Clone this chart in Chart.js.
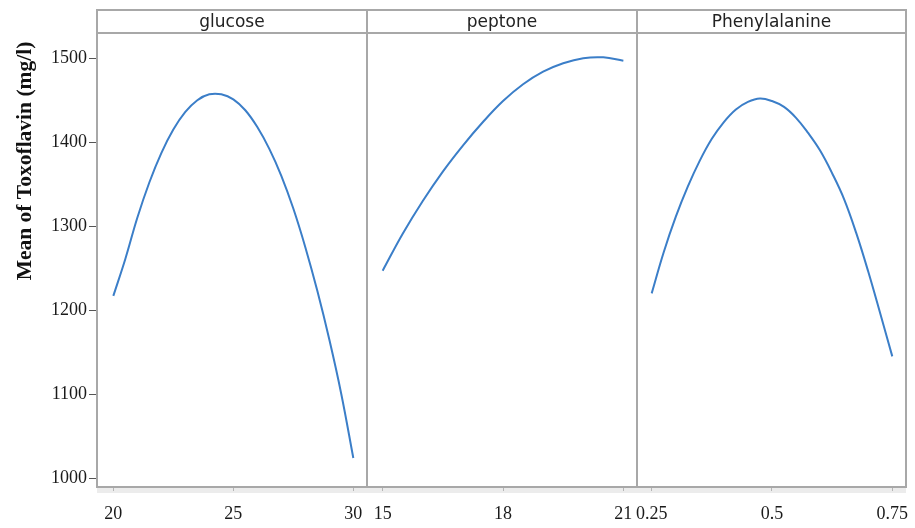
<!DOCTYPE html>
<html>
<head>
<meta charset="utf-8">
<script src="https://cdn.jsdelivr.net/npm/chart.js@4.4.1/dist/chart.umd.min.js"></script>
<style>
  html, body { margin: 0; padding: 0; background: #fff; }
  #wrap { position: relative; width: 915px; height: 528px; background: #fff; }
  #wrap canvas { position: absolute; left: 0; top: 0; }
</style>
</head>
<body>
<div id="wrap">
  <canvas id="panel0" width="915" height="528"></canvas>
  <canvas id="panel1" width="915" height="528"></canvas>
  <canvas id="panel2" width="915" height="528"></canvas>
</div>
<script>
// Factor names shown in the strip above each panel
const factorNames = ['glucose', 'peptone', 'Phenylalanine'];

// Profiled mean response along each factor
const glucoseLevels = [20, 20.5, 21, 21.5, 22, 22.5, 23, 23.5, 24, 24.5, 25, 25.5, 26, 26.5, 27, 27.5, 28, 28.5, 29, 29.5, 30];
const glucoseMean   = [1217, 1261, 1310, 1352, 1387, 1415, 1436, 1450, 1457, 1457, 1451, 1438, 1418, 1392, 1360, 1321, 1275, 1223, 1165, 1100, 1024];

const peptoneLevels = [15, 15.5, 16, 16.5, 17, 17.5, 18, 18.5, 19, 19.5, 20, 20.5, 21];
const peptoneMean   = [1247, 1291, 1330, 1365, 1396, 1424, 1449, 1469, 1484, 1494, 1500, 1501, 1497];

const pheLevels = [0.25, 0.275, 0.3, 0.325, 0.35, 0.375, 0.4, 0.425, 0.45, 0.475, 0.5, 0.525, 0.55, 0.575, 0.6, 0.625, 0.65, 0.675, 0.7, 0.725, 0.75];
const pheMean   = [1220, 1269, 1311, 1347, 1378, 1404, 1424, 1439, 1448, 1452, 1449, 1442, 1429, 1411, 1390, 1363, 1332, 1292, 1246, 1196, 1145];

// Tick labels
const meanTicks    = [1000, 1100, 1200, 1300, 1400, 1500];
const glucoseTicks = [20, 25, 30];
const peptoneTicks = [15, 18, 21];
const pheTicks     = [0.25, 0.5, 0.75];

// Axis limits
const meanRange    = [989.5, 1530];
const glucoseRange = [19.32, 30.57];
const peptoneRange = [14.61, 21.34];
const pheRange     = [0.2195, 0.7785];

const yTitle = 'Mean of Toxoflavin (mg/l)';

const LINE_BLUE = '#3b7ec8';
const FRAME_GREY = '#a8a8a8';
const STRIP_TOP = 10;

// Panel frame, header strip and its label
const facetFrame = {
  id: 'facetFrame',
  beforeDraw(chart) {
    const { ctx, chartArea: { left, right, bottom } } = chart;
    ctx.save();
    ctx.fillStyle = '#ececec';
    ctx.fillRect(left, bottom + 1, right - left, 5);
    ctx.restore();
  },
  afterDraw(chart, args, opts) {
    const { ctx, chartArea: { left, right, top, bottom } } = chart;
    ctx.save();
    ctx.strokeStyle = FRAME_GREY;
    ctx.lineWidth = 2;
    ctx.strokeRect(left, STRIP_TOP, right - left, bottom - STRIP_TOP);
    ctx.beginPath();
    ctx.moveTo(left, top);
    ctx.lineTo(right, top);
    ctx.stroke();
    ctx.fillStyle = '#222';
    ctx.font = '17px "DejaVu Sans"';
    ctx.textAlign = 'center';
    ctx.textBaseline = 'alphabetic';
    ctx.fillText(opts.label, (left + right) / 2, 27);
    if (opts.yTitle) {
      ctx.translate(25, 161);
      ctx.rotate(-Math.PI / 2);
      ctx.font = 'bold 21.5px "Liberation Serif"';
      ctx.fillStyle = '#111';
      ctx.textBaseline = 'middle';
      ctx.fillText(opts.yTitle, 0, 0);
    }
    ctx.restore();
  }
};

const panels = [
  { id: 'panel0', xs: glucoseLevels, ys: glucoseMean, ticks: glucoseTicks, range: glucoseRange, padL: 0,   padR: 915 - 367, showY: true },
  { id: 'panel1', xs: peptoneLevels, ys: peptoneMean, ticks: peptoneTicks, range: peptoneRange, padL: 367, padR: 915 - 637, showY: false },
  { id: 'panel2', xs: pheLevels,     ys: pheMean,     ticks: pheTicks,     range: pheRange,     padL: 637, padR: 915 - 906, showY: false }
];

const tickFont = { family: '"Liberation Serif"', size: 18 };

panels.forEach((p, i) => {
  new Chart(document.getElementById(p.id), {
    type: 'scatter',
    data: {
      datasets: [{
        data: p.xs.map((x, k) => ({ x: x, y: p.ys[k] })),
        showLine: true,
        borderColor: LINE_BLUE,
        borderWidth: 2,
        pointRadius: 0,
        tension: 0.4,
        fill: false
      }]
    },
    options: {
      responsive: false,
      animation: false,
      layout: { padding: { left: p.padL, right: p.padR, top: 33, bottom: 0 } },
      plugins: {
        legend: { display: false },
        tooltip: { enabled: false },
        facetFrame: { label: factorNames[i], yTitle: p.showY ? yTitle : null }
      },
      scales: {
        x: {
          type: 'linear',
          min: p.range[0],
          max: p.range[1],
          afterBuildTicks: s => { s.ticks = p.ticks.map(v => ({ value: v })); },
          afterFit: s => { s.height = 41; s.paddingLeft = 0; s.paddingRight = 0; },
          grid: { drawOnChartArea: false, drawTicks: true, tickLength: 4, color: '#b5b5b5' },
          border: { display: false },
          ticks: { padding: 12, color: '#1a1a1a', font: tickFont, maxRotation: 0, autoSkip: false, callback: v => String(v) }
        },
        y: {
          type: 'linear',
          display: p.showY,
          min: meanRange[0],
          max: meanRange[1],
          afterBuildTicks: s => { s.ticks = meanTicks.map(v => ({ value: v })); },
          afterFit: s => { s.width = p.showY ? 97 : 0; s.paddingTop = 0; s.paddingBottom = 0; },
          grid: { drawOnChartArea: false, drawTicks: true, tickLength: 8, color: '#555' },
          border: { display: false },
          ticks: { padding: 2, color: '#1a1a1a', font: tickFont, callback: v => String(v) }
        }
      }
    },
    plugins: [facetFrame]
  });
});
</script>
</body>
</html>
